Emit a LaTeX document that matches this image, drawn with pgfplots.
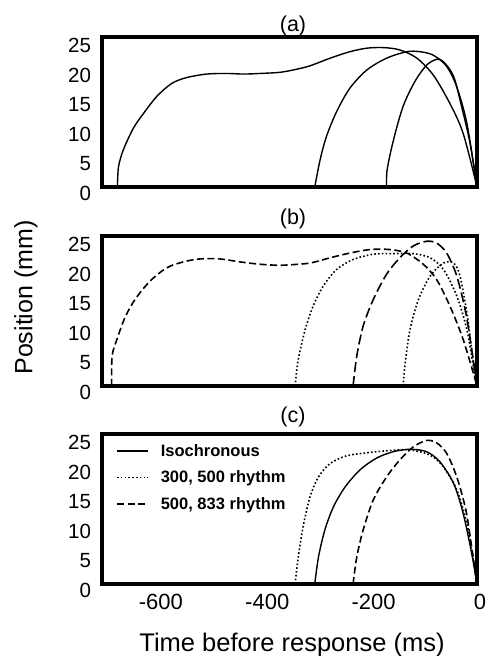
\documentclass[border=0pt]{standalone}
\usepackage{fontspec}
\setmainfont{Liberation Sans}
\usepackage{pgfplots}
\pgfplotsset{compat=1.18}

\pgfplotsset{
  panel/.style={
    width=375pt, height=150pt, scale only axis, anchor=south west,
    xmin=-705, xmax=0, ymin=0, ymax=25.5,
    xtick={-600,-400,-200,0}, ytick={0,5,...,25},
    major tick length=0pt,
    cycle list={{black, solid, no markers}},
    /pgf/number format/assume math mode=true,
    yticklabel style={font=\fontsize{20.5}{24}\selectfont, xshift=-7.5pt, yshift=-6pt},
    xticklabel style={font=\fontsize{22}{26}\selectfont, xshift=3pt, yshift=-7pt},
    title style={font=\fontsize{21.5}{25}\selectfont, xshift=3.5pt, yshift=-2.5pt},
    every axis plot/.append style={black, line width=1.3pt, smooth, no markers},
  },
}
\tikzset{
  solidline/.style={black, solid, line width=1.4pt},
  dashedline/.style={black, line width=1.6pt, dash pattern=on 7pt off 3.5pt},
  longdashed/.style={black, line width=1.6pt, dash pattern=on 10pt off 4pt},
  dottedline/.style={black, line width=1.6pt, dash pattern=on 1.6pt off 2.2pt},
  frame/.style={line width=3.2pt, line join=miter},
}

\begin{document}
\begin{tikzpicture}
\useasboundingbox (0pt,0pt) rectangle (486pt,656pt);

% (a)
\begin{axis}[panel, name=pa, at={(102pt,469pt)}, title={(a)}, title style={yshift=-5.5pt}, xticklabels={}]
\addplot[solidline] coordinates {
  (-676,0) (-674,3.4) (-665,6.3) (-646,10) (-627,12.5) (-602,15.4) (-574,17.6)
  (-546,18.6) (-508,19.2) (-471,19.3) (-439,19.2) (-408,19.3) (-370,19.5)
  (-340,20.0) (-314,20.6) (-276,21.9) (-239,23) (-207,23.6) (-176,23.7)
  (-145,23.3) (-113,21.9) (-82,19) (-51,14.2) (-26,9.1) (0,0)};
\addplot[solidline] coordinates {
  (-305,0) (-295,4.6) (-283,8.6) (-264,12.8) (-239,16.8) (-207,19.9) (-170,21.9)
  (-132,23) (-107,23) (-82,22.4) (-57,20.5) (-38,17) (-19,10.8) (0,0)};
\addplot[solidline] coordinates {
  (-170,0) (-169,2.9) (-157,8) (-139,13.7) (-117,17.9) (-95,20.7) (-76,21.7)
  (-63,21.3) (-44,18.8) (-29,13.7) (-13,7.4) (0,0)};
\end{axis}
\draw[frame] (pa.south west) rectangle (pa.north east);

% (b)
\begin{axis}[panel, name=pb, at={(102pt,270pt)}, title={(b)}, xticklabels={}]
\addplot[dashedline] coordinates {
  (-687,0) (-686,5.1) (-677,7.9) (-662,11.6) (-643,14.7) (-615,17.8) (-583,20.1)
  (-552,21.1) (-521,21.6) (-483,21.6) (-446,21.1) (-408,20.7) (-370,20.5)
  (-352,20.6) (-314,20.9) (-276,21.8) (-239,22.6) (-201,23.2) (-164,23.2)
  (-132,22.6) (-101,20.7) (-76,18.1) (-51,13.6) (-26,7.9) (0,0)};
\addplot[dottedline] coordinates {
  (-342,0) (-336,4.5) (-323,9.6) (-308,13.6) (-289,17) (-264,19.8) (-233,21.5)
  (-195,22.4) (-157,22.5) (-120,22.5) (-88,21.8) (-63,19.8) (-38,15.3)
  (-19,9.6) (-7,3.4) (0,0)};
\addplot[longdashed] coordinates {
  (-233,0) (-226,5.1) (-214,10.2) (-195,14.7) (-170,19) (-145,21.8) (-120,23.8)
  (-95,24.6) (-76,24.3) (-57,22.6) (-38,18.7) (-21,12.4) (-10,6.2) (0,0)};
\addplot[dottedline] coordinates {
  (-139,0) (-135,3.9) (-126,9.6) (-110,14.7) (-88,18.7) (-63,20.9) (-44,20.9)
  (-32,18.7) (-19,12.4) (-10,6.2) (0,0)};
\end{axis}
\draw[frame] (pb.south west) rectangle (pb.north east);

% (c)
\begin{axis}[panel, name=pc, at={(102pt,72pt)}, title={(c)},
  legend style={draw=none, fill=none, at={(rel axis cs:0,1)}, anchor=north west,
    xshift=11pt, yshift=-6pt, row sep=9pt,
    /tikz/every odd column/.append style={column sep=10pt},
    font=\bfseries\fontsize{16.5}{19}\selectfont},
  legend cell align=left,
  legend image code/.code={\draw[#1] (0pt,0pt) -- (31pt,0pt);},
]
\addplot[solidline] coordinates {
  (-305,0) (-298,4.6) (-286,9.2) (-270,13.1) (-248,16.5) (-220,19.4) (-189,21.4)
  (-157,22.5) (-126,22.9) (-95,22.5) (-70,20.8) (-44,17.1) (-26,12) (-10,5.2) (0,0)};
\addlegendentry{Isochronous}
\addplot[dottedline] coordinates {
  (-342,0) (-336,4.6) (-327,9.7) (-314,14.8) (-298,18.2) (-276,20.5) (-245,21.8)
  (-207,22.3) (-164,22.7) (-126,22.8) (-88,21.9) (-63,19.9) (-38,16) (-19,10.3)
  (-8,4.6) (0,0)};
\addlegendentry{300, 500 rhythm}
\addplot[dashedline] coordinates {
  (-233,0) (-226,4.6) (-214,9.2) (-195,14.3) (-170,18.2) (-145,21.1) (-120,23.3)
  (-95,24.4) (-76,24) (-57,22.2) (-38,18.2) (-21,12.6) (-10,6.3) (0,0)};
\addlegendentry{500, 833 rhythm}
\end{axis}
\draw[frame] (pc.south west) rectangle (pc.north east);

\node[rotate=90, font=\fontsize{25}{30}\selectfont] at (26pt,358.5pt) {Position (mm)};
\node[font=\fontsize{25.5}{30}\selectfont] at (292pt,11pt) {Time before response (ms)};
\end{tikzpicture}
\end{document}
